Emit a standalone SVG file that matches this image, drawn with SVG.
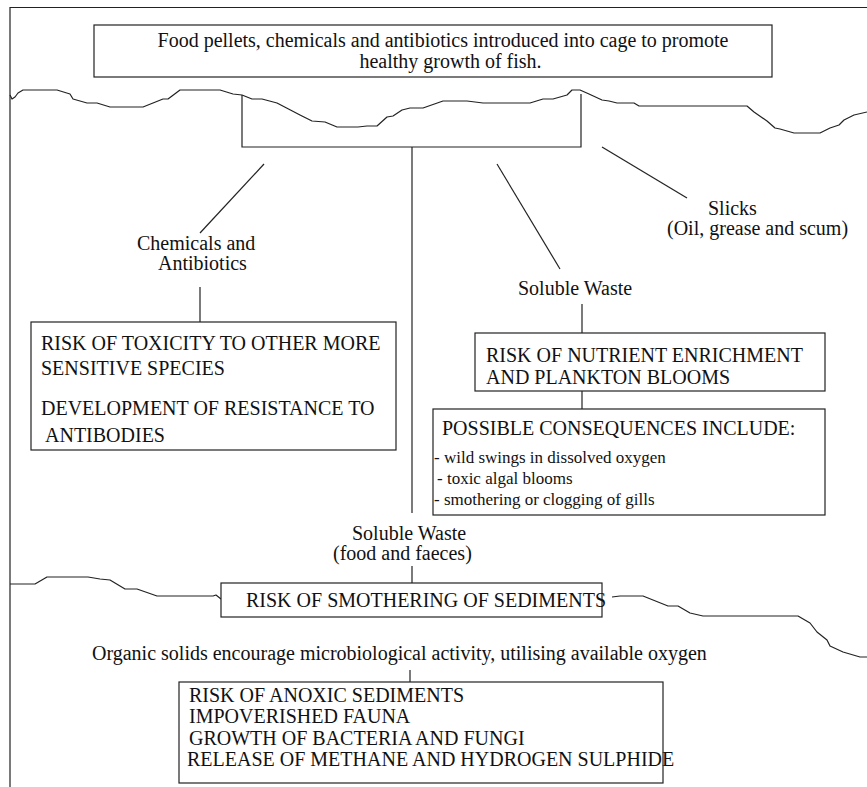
<svg xmlns="http://www.w3.org/2000/svg" width="867" height="787" viewBox="0 0 867 787">
<style>
  .bg { fill: #ffffff; }
  .box { fill: #ffffff; stroke: #222222; stroke-width: 1.2; }
  .ln { fill: none; stroke: #222222; stroke-width: 1.2; }
  .wave { fill: none; stroke: #222222; stroke-width: 1.2; stroke-linejoin: round; }
  .t { font-family: "Liberation Serif", "Times New Roman", serif; font-size: 20px; fill: #111111; }
  .s { font-family: "Liberation Serif", "Times New Roman", serif; font-size: 17px; fill: #111111; }
  .m { text-anchor: middle; }
</style>
<rect class="bg" x="0" y="0" width="867" height="787"/>

<g id="frame">
  <path class="ln" d="M10,787 V7.5 H867"/>
</g>

<g id="water-surface">
  <polyline class="wave" points="10,95 12,99 15,97 18,93 23,90 57,90 70,94 73,99 87,103 97,103 110,107 143,107 163,99 168,99 180,90 220,90 233,94 242,95 252,99 262,99 277,103 300,115 312,121 325,122 337,127 358,127 367,126 377,126 387,117 393,116 402,110 410,108 423,108 443,101 467,101 483,103 530,103 543,99 553,99 567,95 572,90 580,90 589,94 602,100 609,101 617,103 634,103 639,106 747,106 754,112 767,121 775,128 780,129 794,133 820,133 830,128 839,125 844,120 854,115 867,112"/>
</g>

<g id="sea-bed">
  <polyline class="wave" points="10,584 35,584 47,577 53,577 88,577 100,579 110,580 125,589 137,589 157,596 213,596 216,595 221,599"/>
  <polyline class="wave" points="612,597 620,596 643,596 668,606 678,606 690,613 703,616 798,616 810,623 817,632 827,640 830,646 843,652 860,657 867,657"/>
</g>

<g id="connectors">
  <path class="ln" d="M242,95 V147 H581 V94"/>
  <path class="ln" d="M412,147 V513"/>
  <path class="ln" d="M412,566 V583"/>
  <path class="ln" d="M264,164 L200,233"/>
  <path class="ln" d="M200,287 V322"/>
  <path class="ln" d="M497,164 L560,269"/>
  <path class="ln" d="M602,147 L687,198"/>
  <path class="ln" d="M582,304 V333"/>
  <path class="ln" d="M582,391 V409"/>
  <path class="ln" d="M410,670 V682"/>
</g>

<g id="node-inputs">
  <rect class="box" x="94" y="25" width="678" height="52"/>
  <text class="t m" x="443" y="47">Food pellets, chemicals and antibiotics introduced into cage to promote</text>
  <text class="t m" x="450.5" y="68">healthy growth of fish.</text>
</g>

<g id="label-chemicals">
  <text class="t" x="137" y="250">Chemicals and</text>
  <text class="t" x="158" y="270">Antibiotics</text>
</g>

<g id="node-toxicity">
  <rect class="box" x="31" y="322" width="365" height="128"/>
  <text class="t" x="41" y="350">RISK OF TOXICITY TO OTHER MORE</text>
  <text class="t" x="41" y="375">SENSITIVE SPECIES</text>
  <text class="t" x="41" y="415">DEVELOPMENT OF RESISTANCE TO</text>
  <text class="t" x="45" y="442">ANTIBODIES</text>
</g>

<g id="label-slicks">
  <text class="t" x="708" y="215">Slicks</text>
  <text class="t" x="667" y="235">(Oil, grease and scum)</text>
</g>

<g id="label-soluble-waste">
  <text class="t" x="518" y="295">Soluble Waste</text>
</g>

<g id="node-nutrient">
  <rect class="box" x="475" y="333" width="350" height="58"/>
  <text class="t" x="486" y="362">RISK OF NUTRIENT ENRICHMENT</text>
  <text class="t" x="486" y="384">AND PLANKTON BLOOMS</text>
</g>

<g id="node-consequences">
  <rect class="box" x="433" y="409" width="392" height="106"/>
  <text class="t" x="442" y="435">POSSIBLE CONSEQUENCES INCLUDE:</text>
  <text class="s" x="434" y="463">- wild swings in dissolved oxygen</text>
  <text class="s" x="437" y="484">- toxic algal blooms</text>
  <text class="s" x="434" y="505">- smothering or clogging of gills</text>
</g>

<g id="label-solids">
  <text class="t" x="352" y="540">Soluble Waste</text>
  <text class="t" x="333" y="560">(food and faeces)</text>
</g>

<g id="node-smothering">
  <rect class="box" x="221" y="583" width="381" height="34"/>
  <text class="t" x="246" y="607">RISK OF SMOTHERING OF SEDIMENTS</text>
</g>

<g id="label-organic">
  <text class="t" x="92" y="660">Organic solids encourage microbiological activity, utilising available oxygen</text>
</g>

<g id="node-anoxic">
  <rect class="box" x="179" y="682" width="484" height="101"/>
  <text class="t" x="189" y="702">RISK OF ANOXIC SEDIMENTS</text>
  <text class="t" x="189" y="723">IMPOVERISHED FAUNA</text>
  <text class="t" x="189" y="745">GROWTH OF BACTERIA AND FUNGI</text>
  <text class="t" x="187" y="766">RELEASE OF METHANE AND HYDROGEN SULPHIDE</text>
</g>
</svg>
